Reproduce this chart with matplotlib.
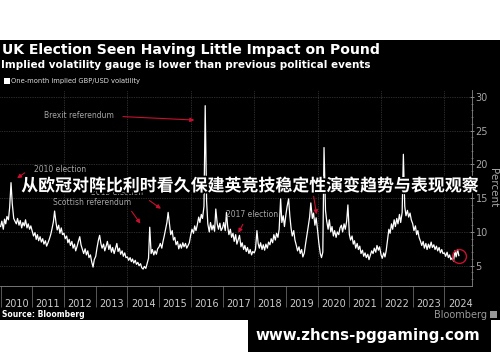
import pandas as pd
import matplotlib
matplotlib.use('Agg')
import matplotlib.pyplot as plt
import matplotlib.dates as mdates
import matplotlib.patheffects as pe
from matplotlib.patches import Rectangle

# one-month implied GBP/USD volatility (%), two readings a month
vol_2010 = [10.8, 11.6, 10.4, 11.9, 11.2, 12.3, 11.8, 13.6, 17.3, 14.2, 12.0, 11.6,
            11.2, 12.0, 11.0, 11.7, 10.6, 11.4, 10.9, 11.8, 10.6, 11.2, 10.4, 10.9]
vol_2011 = [10.1, 9.4, 9.9, 8.9, 9.6, 8.7, 9.3, 8.5, 9.0, 8.2, 8.7, 7.9,
            8.4, 8.9, 9.6, 10.4, 11.5, 13.1, 11.4, 10.3, 11.0, 9.8, 10.6, 9.6]
vol_2012 = [9.8, 9.0, 9.4, 8.4, 8.9, 8.0, 8.6, 7.6, 8.2, 7.2, 7.9, 8.6,
            9.3, 8.1, 7.4, 6.8, 7.5, 6.6, 7.2, 6.2, 6.6, 5.6, 4.8, 5.9]
vol_2013 = [6.4, 7.6, 8.8, 9.5, 8.3, 7.6, 8.2, 7.2, 7.9, 8.6, 7.4, 8.1,
            7.0, 7.7, 6.8, 7.5, 8.3, 7.1, 7.6, 6.7, 7.2, 6.4, 6.9, 6.2]
vol_2014 = [6.3, 5.8, 6.2, 5.6, 6.0, 5.4, 5.8, 5.2, 5.5, 5.0, 5.3, 4.7,
            4.5, 4.9, 4.6, 5.3, 6.1, 10.7, 6.8, 7.4, 6.6, 7.2, 6.7, 7.5]
vol_2015 = [7.8, 8.3, 7.6, 8.6, 9.4, 10.3, 11.4, 12.9, 11.2, 9.6, 10.2, 8.8,
            9.2, 8.1, 8.6, 7.5, 8.2, 7.6, 8.4, 7.8, 8.3, 7.6, 8.0, 8.4]
vol_2016 = [9.6, 10.4, 9.8, 10.9, 10.2, 11.0, 12.2, 11.4, 12.6, 12.0, 13.8, 28.7,
            14.6, 11.2, 10.0, 11.4, 10.3, 11.0, 10.1, 13.4, 11.2, 10.4, 11.3, 10.2]
vol_2017 = [10.6, 11.4, 10.2, 12.9, 10.8, 9.6, 10.4, 9.2, 9.8, 8.6, 9.6, 8.2,
            8.9, 9.5, 7.8, 8.4, 7.4, 8.0, 7.1, 7.7, 6.8, 7.4, 6.6, 7.1]
vol_2018 = [6.9, 7.4, 10.2, 8.3, 7.6, 8.4, 7.4, 8.1, 7.3, 8.2, 7.6, 8.5,
            8.1, 9.0, 8.4, 9.6, 8.8, 9.8, 9.2, 10.4, 14.9, 11.4, 12.4, 10.8]
vol_2019 = [12.6, 13.8, 14.9, 12.4, 10.6, 9.4, 10.2, 8.8, 8.0, 7.2, 7.8, 6.8,
            7.4, 6.3, 6.9, 8.2, 9.6, 10.8, 12.2, 14.3, 12.0, 12.8, 11.0, 12.1]
vol_2020 = [10.2, 8.4, 6.8, 6.2, 7.0, 22.5, 13.2, 11.6, 10.4, 11.8, 10.0, 10.8,
            9.4, 10.2, 9.2, 10.0, 9.6, 10.6, 11.0, 10.0, 11.2, 10.4, 11.6, 14.0]
vol_2021 = [9.6, 8.8, 9.4, 8.2, 8.7, 7.6, 8.3, 7.4, 7.9, 6.8, 7.3, 6.4,
            6.9, 6.2, 6.7, 5.9, 6.6, 7.2, 6.8, 7.6, 7.0, 8.0, 7.3, 7.8]
vol_2022 = [6.6, 6.1, 6.9, 6.3, 7.2, 8.6, 10.4, 9.8, 11.2, 10.4, 11.8, 10.8,
            12.0, 11.2, 12.6, 11.4, 12.9, 21.5, 13.8, 12.4, 13.2, 12.2, 12.8, 11.8]
vol_2023 = [11.2, 10.2, 10.9, 9.6, 10.2, 9.2, 8.6, 8.0, 8.6, 7.6, 8.3, 7.4,
            8.2, 7.6, 8.5, 7.7, 8.1, 7.4, 7.9, 7.2, 7.7, 6.9, 7.4, 6.8]
vol_2024 = [6.9, 6.4, 7.0, 6.2, 6.6, 5.9, 6.2, 5.7, 7.2, 6.3, 7.4, 6.5]

vol = (vol_2010 + vol_2011 + vol_2012 + vol_2013 + vol_2014 + vol_2015 + vol_2016
       + vol_2017 + vol_2018 + vol_2019 + vol_2020 + vol_2021 + vol_2022 + vol_2023 + vol_2024)
dates = pd.date_range('2010-01-01', periods=len(vol), freq='SMS')
years = list(range(2010, 2025))

# event labels: text, text pos (year, %), arrow start, arrow tip
events = [
    ('Brexit referendum', (2011.36, 27.3), (2013.77, 27.1), (2016.20, 26.55)),
    ('2010 election', (2011.05, 19.2), (2010.83, 19.0), (2010.45, 17.7)),
    ('2015 election', (2012.85, 15.8), (2014.62, 14.9), (2015.13, 13.2)),
    ('Scottish referendum', (2011.65, 14.3), (2014.08, 13.4), (2014.46, 10.9)),
    ('2017 election', (2017.11, 12.6), (2017.68, 11.5), (2017.46, 9.5)),
    ('', None, (2019.86, 15.7), (2019.98, 12.2)),
]


def yr(y):
    return pd.Timestamp(int(y), 1, 1) + pd.Timedelta(days=(y % 1) * 365.25)


red = '#c8102e'
grey = '#a6a6a6'

fig = plt.figure(figsize=(5, 3.62), dpi=100)
fig.patch.set_facecolor('white')
fig.patches.append(Rectangle((0, 0.116), 1, 0.7735, transform=fig.transFigure,
                             facecolor='black', zorder=-5))

ax = fig.add_axes([0.0, 0.21, 0.944, 0.541])
ax.set_facecolor('black')
ax.plot(dates, vol, color='white', lw=0.9, zorder=3)

ax.set_xlim(yr(2009.98), yr(2024.87))
ax.set_ylim(2, 31)

# horizontal dotted grid and two-yearly vertical dotted lines
for v in range(5, 31, 5):
    ax.axhline(v, color='#555555', lw=0.5, ls=(0, (1, 1.5)), zorder=1)
for y in years[2::2]:
    ax.axvline(pd.Timestamp(y, 1, 1), color='#555555', lw=0.5, ls=(0, (1, 1.5)), zorder=1)

ax.xaxis.set_major_locator(mdates.YearLocator())
ax.xaxis.set_major_formatter(plt.NullFormatter())
ax.xaxis.set_minor_locator(mdates.MonthLocator(bymonth=7))
ax.xaxis.set_minor_formatter(mdates.DateFormatter('%Y'))
ax.tick_params(axis='x', which='major', length=15, color='#666666', width=0.6)
ax.tick_params(axis='x', which='minor', length=0, pad=9.5, labelsize=7, labelcolor='#cccccc')

ax.yaxis.tick_right()
ax.yaxis.set_label_position('right')
ax.set_yticks(range(5, 31, 5))
ax.set_yticks(range(3, 31), minor=True)
ax.tick_params(axis='y', which='major', length=3, direction='inout', color='#999999',
               width=0.6, labelsize=7, labelcolor=grey, pad=1)
ax.tick_params(axis='y', which='minor', length=1.5, direction='inout', color='#777777', width=0.5)
ax.set_ylabel('Percent', rotation=270, color=grey, fontsize=7.5, labelpad=7)

for s in ['top', 'left']:
    ax.spines[s].set_visible(False)
for s in ['bottom', 'right']:
    ax.spines[s].set_color('#888888')
    ax.spines[s].set_linewidth(0.6)

for label, tpos, start, tip in events:
    if tpos:
        ax.text(yr(tpos[0]), tpos[1], label, color=grey, fontsize=5.5, va='center', zorder=4)
    ax.annotate('', xy=(yr(tip[0]), tip[1]), xytext=(yr(start[0]), start[1]),
                arrowprops=dict(arrowstyle='-|>', color=red, lw=0.8, mutation_scale=6),
                zorder=5)

ax.plot([dates[-1]], [vol[-1] - 0.1], marker='o', ms=10, mfc='none', mec=red, mew=1.0, zorder=5)

# headings
fig.text(0.004, 0.862, 'UK Election Seen Having Little Impact on Pound', color='white',
         fontsize=10.1, fontweight='bold', family='DejaVu Sans', va='center')
fig.text(0.002, 0.820, 'Implied volatility gauge is lower than previous political events',
         color='white', fontsize=7.5, fontweight='bold', family='DejaVu Sans', va='center')
fig.patches.append(Rectangle((0.008, 0.769), 0.011, 0.015, transform=fig.transFigure,
                             facecolor='white', zorder=2))
fig.text(0.022, 0.776, 'One-month implied GBP/USD volatility', color='#dddddd',
         fontsize=4.9, va='center')
fig.text(0.004, 0.131, 'Source: Bloomberg', color='white', fontsize=5.5,
         fontweight='bold', va='center')
fig.text(0.974, 0.131, 'Bloomberg', color='#999999', fontsize=7, va='center', ha='right')
fig.patches.append(Rectangle((0.98, 0.122), 0.013, 0.02, transform=fig.transFigure,
                             facecolor='#999999', zorder=2))

# overlay title
fig.text(0.498, 0.486, '从欧冠对阵比利时看久保建英竞技稳定性演变趋势与表现观察', color='white',
         fontsize=12.2, fontweight='bold', family=['Noto Sans CJK SC', 'DejaVu Sans'],
         ha='center', va='center', zorder=10,
         path_effects=[pe.withStroke(linewidth=2.5, foreground='black')])

# watermark box
fig.patches.append(Rectangle((0.496, 0.0276), 0.486, 0.0884, transform=fig.transFigure,
                             facecolor='black', zorder=1))
fig.text(0.736, 0.072, 'www.zhcns-pggaming.com', color='white', fontsize=10.8,
         fontweight='bold', ha='center', va='center', zorder=10)

fig.savefig('out.png', dpi=100, facecolor=fig.get_facecolor())
